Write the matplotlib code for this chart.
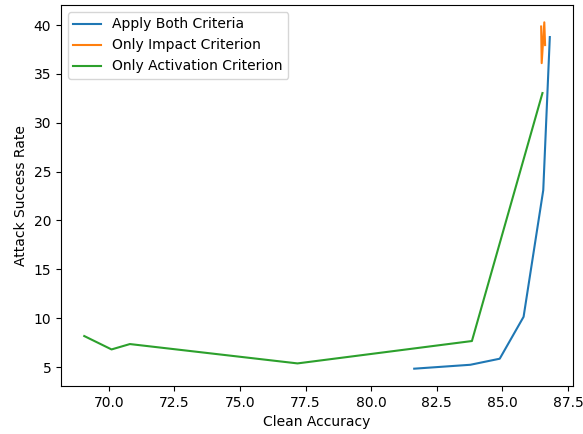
import matplotlib
matplotlib.use("Agg")
import matplotlib.pyplot as plt

# Apply Both Criteria
both_acc = [81.64, 83.78, 84.90, 85.81, 86.56, 86.81]
both_asr = [4.83, 5.23, 5.85, 10.14, 23.1, 38.77]

# Only Impact Criterion
impact_acc = [86.48, 86.50, 86.60, 86.63]
impact_asr = [39.85, 36.1, 40.28, 37.95]

# Only Activation Criterion
act_acc = [69.06, 70.10, 70.80, 77.19, 83.84, 86.53]
act_asr = [8.17, 6.80, 7.35, 5.37, 7.66, 33.04]

fig = plt.figure(figsize=(5.83, 4.34), dpi=100)
ax = fig.add_subplot(111)
ax.plot(both_acc, both_asr, label="Apply Both Criteria")
ax.plot(impact_acc, impact_asr, label="Only Impact Criterion")
ax.plot(act_acc, act_asr, label="Only Activation Criterion")
ax.set_xlabel("Clean Accuracy")
ax.set_ylabel("Attack Success Rate")
ax.legend(loc="upper left")
fig.subplots_adjust(left=0.1046, right=0.983, top=0.9885, bottom=0.1106)
fig.savefig("out.png", dpi=100)
